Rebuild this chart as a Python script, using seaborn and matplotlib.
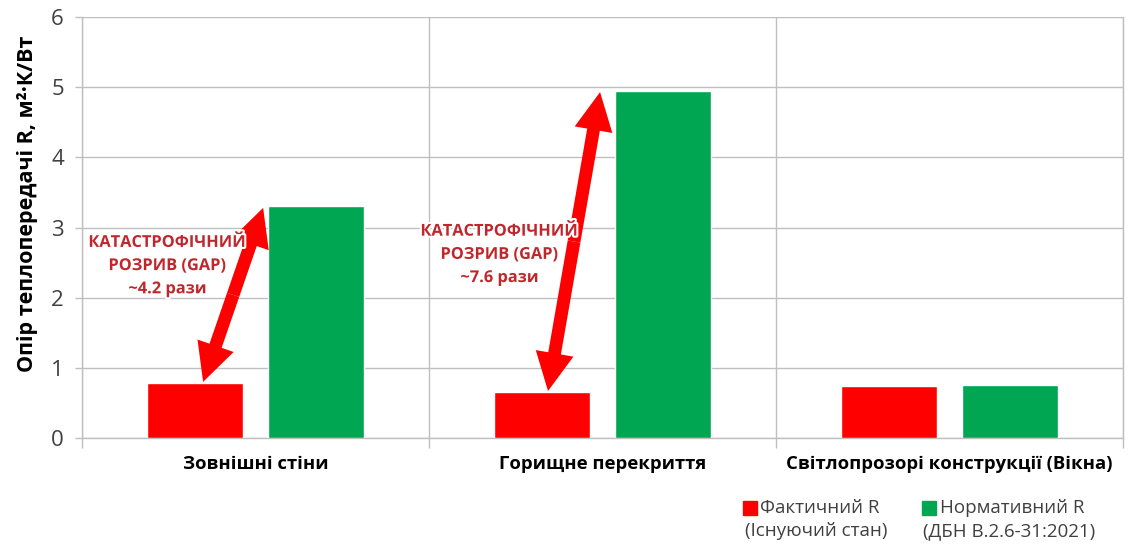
import matplotlib
matplotlib.use("Agg")
import matplotlib.pyplot as plt
import matplotlib.patheffects as pe
from matplotlib.patches import FancyArrowPatch, Rectangle
import pandas as pd
import seaborn as sns

# --- data -------------------------------------------------------------
categories = ["Зовнішні стіни", "Горищне перекриття", "Світлопрозорі конструкції (Вікна)"]
actual_r = [0.78, 0.65, 0.74]      # фактичний опір теплопередачі
norm_r = [3.3, 4.95, 0.75]         # нормативний опір (ДБН В.2.6-31:2021)
series = ["Фактичний R", "Нормативний R"]
series_notes = ["(Існуючий стан)", "(ДБН В.2.6-31:2021)"]
gap_labels = ["КАТАСТРОФІЧНИЙ\nРОЗРИВ (GAP)\n~4.2 рази",
              "КАТАСТРОФІЧНИЙ\nРОЗРИВ (GAP)\n~7.6 рази"]
y_ticks = [0, 1, 2, 3, 4, 5, 6]

RED = "#FF0000"
GREEN = "#00A651"
DARK_RED = "#C0272D"
GRID = "#BFBFBF"
TEXT = "#404040"

sns.set_theme(style="white")
plt.rcParams["font.family"] = ["Open Sans", "DejaVu Sans"]

df = pd.DataFrame({
    "Елемент": categories * 2,
    "R": actual_r + norm_r,
    "Показник": [series[0]] * len(categories) + [series[1]] * len(categories),
})

W, H = 1133, 547
fig = plt.figure(figsize=(W / 100, H / 100), dpi=100)
ax = fig.add_axes([82 / W, 109 / H, 1041 / W, 421 / H])

sns.barplot(data=df, x="Елемент", y="R", hue="Показник", order=categories,
            hue_order=series, palette=[RED, GREEN], saturation=1,
            width=0.692, gap=0.2, errorbar=None, legend=False, ax=ax, zorder=3)

# --- axes ---------------------------------------------------------------
ax.set_xlim(-0.5, len(categories) - 0.5)
ax.set_ylim(0, 6)
ax.set_yticks(y_ticks)
ax.set_xticks([i - 0.5 for i in range(len(categories) + 1)], minor=True)
ax.yaxis.grid(True, color=GRID, lw=1)
ax.xaxis.grid(True, which="minor", color=GRID, lw=1)
ax.xaxis.grid(False, which="major")
ax.set_axisbelow(True)

ax.tick_params(axis="x", which="major", bottom=False, length=0, pad=12,
               labelsize=13.3, labelcolor="#000000")
ax.tick_params(axis="x", which="minor", bottom=True, length=7, width=1,
               color=GRID, direction="out")
ax.tick_params(axis="y", left=True, length=5, width=1, color=GRID,
               direction="out", pad=8, labelsize=16, labelcolor=TEXT)
for lab in ax.get_xticklabels():
    lab.set_fontweight("bold")

for side in ("left", "bottom", "right"):
    ax.spines[side].set_visible(True)
    ax.spines[side].set_color(GRID)
    ax.spines[side].set_linewidth(1)
ax.spines["top"].set_visible(False)

ax.set_xlabel("")
ax.set_ylabel("Опір теплопередачі R, м²·К/Вт", fontsize=15.5,
              fontweight="bold", color="#000000")
ax.yaxis.set_label_coords(-0.042, 0.556)

# --- gap arrows and notes ---------------------------------------------
arrow_x = [(-0.151, 0.022), (0.843 - 1, 0.993 - 1)]
text_pos = [(-0.254, 2.45), (0.703, 2.61)]
for i, (lab, (xl, xh), (tx, ty)) in enumerate(zip(gap_labels, arrow_x, text_pos)):
    p_low = (i + xl, actual_r[i] + 0.02)
    p_high = (i + xh, norm_r[i] - 0.02)
    mid = ((p_low[0] + p_high[0]) / 2, (p_low[1] + p_high[1]) / 2)
    for end in (p_low, p_high):
        ax.add_patch(FancyArrowPatch(
            mid, end, arrowstyle="simple,head_length=1.25,head_width=1.25,tail_width=0.42",
            mutation_scale=22, color=RED, shrinkA=0, shrinkB=0, zorder=4, lw=0))
    ax.text(tx, ty, lab, ha="center", va="center", color=DARK_RED,
            fontsize=11.8, fontweight="bold", linespacing=1.6, zorder=5,
            path_effects=[pe.withStroke(linewidth=3, foreground="white")])

# --- legend -------------------------------------------------------------
legend_items = [
    (RED, 743, 760, 745),
    (GREEN, 922, 940, 923),
]
for (col, sq_x, t1_x, t2_x), name, note in zip(legend_items, series, series_notes):
    fig.add_artist(Rectangle((sq_x / W, (H - 515) / H), 14 / W, 14 / H,
                             transform=fig.transFigure, color=col))
    fig.text(t1_x / W, (H - 508) / H, name, ha="left", va="center",
             fontsize=13.5, color=TEXT)
    fig.text(t2_x / W, (H - 531) / H, note, ha="left", va="center",
             fontsize=13.5, color=TEXT)

fig.savefig("out.png", dpi=100, facecolor="white")
